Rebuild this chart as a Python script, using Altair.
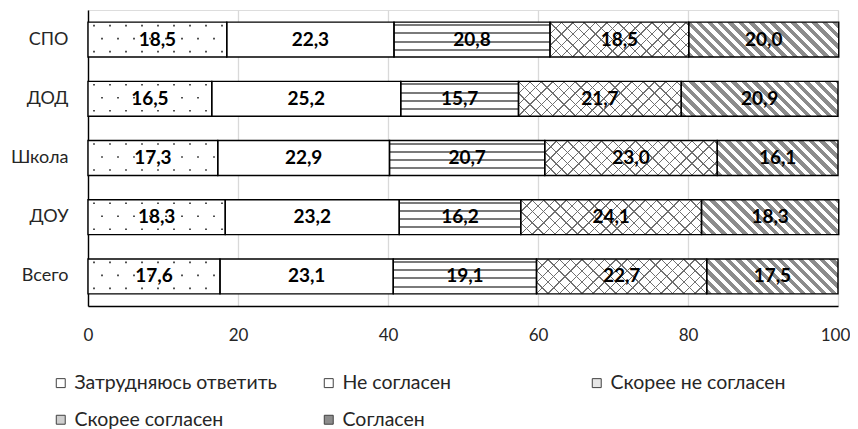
import altair as alt
import pandas as pd

# ---------------- data ----------------
cats = ["СПО", "ДОД", "Школа", "ДОУ", "Всего"]
responses = ["Затрудняюсь ответить", "Не согласен", "Скорее не согласен",
             "Скорее согласен", "Согласен"]
v_zatr = [18.5, 16.5, 17.3, 18.3, 17.6]
v_ne = [22.3, 25.2, 22.9, 23.2, 23.1]
v_skne = [20.8, 15.7, 20.7, 16.2, 19.1]
v_sks = [18.5, 21.7, 23.0, 24.1, 22.7]
v_sogl = [20.0, 20.9, 16.1, 18.3, 17.5]
x_ticks = [0, 20, 40, 60, 80, 100]

series = [v_zatr, v_ne, v_skne, v_sks, v_sogl]
rows = []
for ri, (r, vals) in enumerate(zip(responses, series)):
    for c, v in zip(cats, vals):
        rows.append({"cat": c, "resp": r, "order": ri, "value": v})
df = pd.DataFrame(rows)

# ---------------- layout / style ----------------
W, H = 750, 296
PAD_IN = 0.41
BAR_H = H / len(cats) * (1 - PAD_IN)
PX = W / 100.0
FONT = "Lato"
FS_TICK = 17
FS_CAT = 18
FS_BAR = 19
FS_LEG = 19.5
TXT = "#262626"
CLEAR = "rgba(255,255,255,0)"


def stripes(w, h, n, period, thick, phase, color, bg):
    nx, ny = n
    nn = (nx * nx + ny * ny) ** 0.5
    nx, ny = nx / nn, ny / nn
    L = abs(nx) * w + abs(ny) * h
    corners = [(0, 0), (1, 0), (0, 1), (1, 1)]
    proj = [nx * w * u + ny * h * v for u, v in corners]
    c0 = min(proj)
    um, vm = corners[proj.index(c0)]
    a, b = nx * w / L, ny * h / L
    s = a * a + b * b
    du, dv = a / s, b / s
    stops = [{"offset": 0, "color": bg}]
    pos = phase
    while pos < L:
        if pos + thick > 0:
            o1 = max(pos, 0) / L
            o2 = min(pos + thick, L) / L
            stops += [{"offset": o1, "color": bg}, {"offset": o1, "color": color},
                      {"offset": o2, "color": color}, {"offset": o2, "color": bg}]
        pos += period
    stops.append({"offset": 1, "color": bg})
    return {"gradient": "linear", "x1": um, "y1": vm,
            "x2": um + du, "y2": vm + dv, "stops": stops}


base = alt.Chart(df).transform_stack(
    stack="value", groupby=["cat"], as_=["x0", "x1"],
    sort=[alt.SortField("order", order="ascending")]
).transform_calculate(
    mid="(datum.x0 + datum.x1) / 2",
    label="replace(format(datum.value, '.1f'), '.', ',')"
)

X = alt.X("x0:Q", scale=alt.Scale(domain=[0, 100], nice=False, zero=True),
          axis=alt.Axis(values=x_ticks, title=None, grid=True, gridColor="#d9d9d9",
                        gridWidth=1.3, domainColor="#000000", domainWidth=1.4,
                        ticks=False, labelPadding=21, labelFont=FONT,
                        labelFontSize=FS_TICK, labelColor=TXT, labelFlush=False,
                        labelOffset={"condition": {"test": "datum.value == 100",
                                                   "value": -3},
                                     "value": 0}))
X2 = alt.X2("x1:Q")
Y = alt.Y("cat:N", sort=cats,
          scale=alt.Scale(domain=cats, paddingInner=PAD_IN, paddingOuter=PAD_IN / 2),
          axis=alt.Axis(title=None, ticks=False, domainColor="#000000", domainWidth=1.4,
                        labelPadding=20, labelFont=FONT, labelFontSize=FS_CAT,
                        labelColor=TXT, grid=False))

legend_colors = ["#ffffff", "#ffffff", "#e6e6e6", "#cfcfcf", "#8c8c8c"]

layers = []
# legend source layer
layers.append(base.mark_bar().encode(
    x=X, x2=X2, y=Y,
    fill=alt.Fill("resp:N", sort=responses,
                  scale=alt.Scale(domain=responses, range=legend_colors),
                  legend=alt.Legend(
                      title=None, orient="none", legendX=-37, legendY=363,
                      direction="horizontal", columns=3, gridAlign="all",
                      columnPadding=42, rowPadding=16, symbolType="square",
                      symbolSize=80, symbolStrokeColor="#404040",
                      symbolStrokeWidth=1, labelFont=FONT, labelFontSize=FS_LEG,
                      labelColor=TXT, labelOffset=4, labelLimit=400)),
))
# white cover
layers.append(base.mark_bar(fill="#ffffff").encode(x=X, x2=X2, y=Y))


def one(c, r):
    return f"datum.cat == '{c}' && datum.resp == '{r}'"


# horizontal stripes (Скорее не согласен)
g = stripes(100, BAR_H, (0, 1), 8.2, 2.0, 2.0, "#7a7a7a", "#ffffff")
layers.append(base.transform_filter(f"datum.resp == '{responses[2]}'")
              .mark_bar(fill=g).encode(x=X, x2=X2, y=Y))

for ci, c in enumerate(cats):
    # dots (Затрудняюсь ответить)
    w = v_zatr[ci] * PX
    for k, (off, ph) in enumerate([(-14, 5.0), (-1, 13.0), (12, 5.0)]):
        gd = stripes(w, 1.6, (1, 0), 16.0, 1.6, ph, "#505050", CLEAR)
        layers.append(base.transform_filter(one(c, responses[0]))
                      .mark_bar(fill=gd, height=1.6, yOffset=off)
                      .encode(x=X, x2=X2, y=Y))
    # crosshatch (Скорее согласен)
    w = v_sks[ci] * PX
    g1 = stripes(w, BAR_H, (1, -1), 8.0, 1.0, 0.0, "#707070", "#ffffff")
    g2 = stripes(w, BAR_H, (1, 1), 8.0, 1.0, 0.0, "#707070", CLEAR)
    for gg in (g1, g2):
        layers.append(base.transform_filter(one(c, responses[3]))
                      .mark_bar(fill=gg).encode(x=X, x2=X2, y=Y))
    # diagonal stripes (Согласен)
    w = v_sogl[ci] * PX
    g3 = stripes(w, BAR_H, (1, -1), 7.4, 3.8, 0.0, "#8c8c8c", "#ffffff")
    layers.append(base.transform_filter(one(c, responses[4]))
                  .mark_bar(fill=g3).encode(x=X, x2=X2, y=Y))

# outlines
layers.append(base.mark_bar(fill="transparent", stroke="#000000", strokeWidth=1.4)
              .encode(x=X, x2=X2, y=Y))
# value labels
layers.append(base.mark_text(font=FONT, fontSize=FS_BAR, fontWeight="bold",
                             color="#000000", baseline="middle", align="center")
              .encode(x=alt.X("mid:Q"), y=alt.Y("cat:N", sort=cats), text="label:N"))

chart = alt.layer(*layers).properties(
    width=W, height=H,
    autosize=alt.AutoSizeParams(type="none"),
    padding={"left": 80, "top": 2, "right": 12, "bottom": 123},
).configure_view(stroke=None).configure(font=FONT)

chart.save("out.html", embed_options={"renderer": "svg", "actions": False})
